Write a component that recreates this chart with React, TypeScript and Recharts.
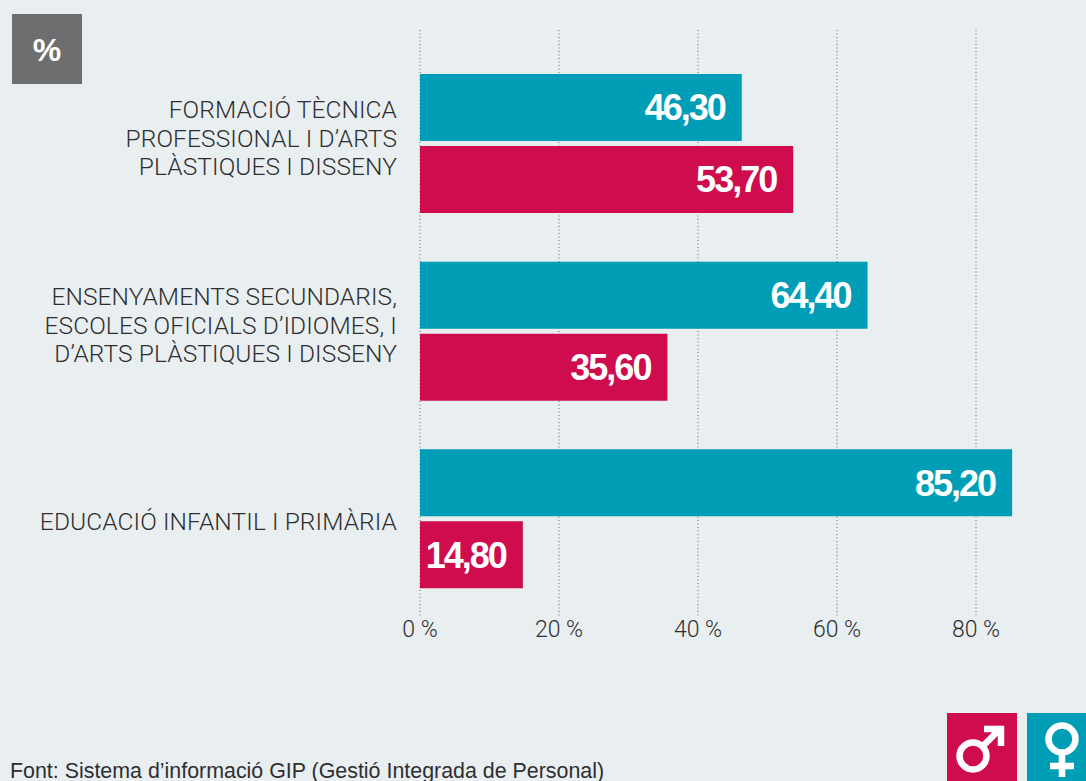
import { BarChart, Bar, XAxis, YAxis, CartesianGrid, LabelList } from "recharts";

const categories = [
  "FORMACIÓ TÈCNICA\nPROFESSIONAL I D’ARTS\nPLÀSTIQUES I DISSENY",
  "ENSENYAMENTS SECUNDARIS,\nESCOLES OFICIALS D’IDIOMES, I\nD’ARTS PLÀSTIQUES I DISSENY",
  "EDUCACIÓ INFANTIL I PRIMÀRIA",
];
const homes = [46.3, 64.4, 85.2];
const dones = [53.7, 35.6, 14.8];
const xTicks = [0, 20, 40, 60, 80];

const data = categories.map((name, i) => ({ name, homes: homes[i], dones: dones[i] }));

const TEAL = "#009eb6";
const RED = "#cf0c4e";
const BG = "#e9eef1";
const TEXT = "#2e2e30";
const FONT = "Roboto, 'Liberation Sans', sans-serif";

// the label blocks don't sit exactly on the band centre in the original
const labelShift = [-5.5, -6.5, 2.5];

function CategoryTick({ x, y, payload, index }: any) {
  const lines = String(payload.value).split("\n");
  const top = y + labelShift[index] - ((lines.length - 1) * 28.5) / 2;
  return (
    <text textAnchor="end" fontFamily={FONT} fontWeight={300} fontSize={24.5} fill={TEXT} letterSpacing={0.1}>
      {lines.map((line, i) => (
        <tspan key={i} x={x} y={top + i * 28.5 + 8.5}>
          {line}
        </tspan>
      ))}
    </text>
  );
}

function PercentTick({ x, y, payload }: any) {
  return (
    <text x={x} y={y + 13} textAnchor="middle" fontFamily={FONT} fontWeight={300} fontSize={23} fill={TEXT}>
      {payload.value} %
    </text>
  );
}

function valueText(v: any) {
  return Number(v).toFixed(2).replace(".", ",");
}

const labelStyle = {
  fontFamily: "'Liberation Sans', sans-serif",
  fontWeight: 700,
  fontSize: 36,
  letterSpacing: -2,
  fill: "#ffffff",
};

export default function App() {
  return (
    <div style={{ position: "absolute", left: 0, top: 0, width: 1086, height: 781, overflow: "hidden", background: BG }}>
      <BarChart
        width={1086}
        height={781}
        data={data}
        layout="vertical"
        barSize={67}
        barGap={5}
        margin={{ top: 30, right: 5.75, bottom: 0, left: 0 }}
      >
        <CartesianGrid
          horizontal={false}
          verticalValues={xTicks}
          stroke="#8f9599"
          strokeWidth={1.5}
          strokeDasharray="1 2.5"
        />
        <XAxis
          type="number"
          domain={[0, 95]}
          ticks={xTicks}
          height={165}
          axisLine={false}
          tickLine={false}
          interval={0}
          tick={<PercentTick />}
        />
        <YAxis
          type="category"
          dataKey="name"
          width={420}
          axisLine={false}
          tickLine={false}
          interval={0}
          padding={{ top: 20, bottom: 3 }}
          tickMargin={0}
          tick={(p: any) => <CategoryTick {...p} x={397} />}
        />
        <Bar dataKey="homes" fill={TEAL} isAnimationActive={false}>
          <LabelList dataKey="homes" position="insideRight" offset={17} formatter={valueText} style={labelStyle} />
        </Bar>
        <Bar dataKey="dones" fill={RED} isAnimationActive={false}>
          <LabelList dataKey="dones" position="insideRight" offset={17} formatter={valueText} style={labelStyle} />
        </Bar>
      </BarChart>

      <div
        style={{
          position: "absolute",
          left: 12,
          top: 14,
          width: 70,
          height: 70,
          background: "#6d6e70",
          color: "#fff",
          fontFamily: "'Liberation Sans', sans-serif",
          fontWeight: 700,
          fontSize: 32,
          lineHeight: "72px",
          textAlign: "center",
        }}
      >
        %
      </div>

      <div
        style={{
          position: "absolute",
          left: 10,
          top: 758,
          fontFamily: "'Liberation Sans', sans-serif",
          fontSize: 21.4,
          lineHeight: "26px",
          color: TEXT,
          whiteSpace: "nowrap",
        }}
      >
        Font: Sistema d’informació GIP (Gestió Integrada de Personal)
      </div>

      <svg style={{ position: "absolute", left: 0, top: 0 }} width={1086} height={781}>
        <rect x={947} y={713} width={70} height={68} fill={RED} />
        <rect x={1027} y={713} width={59} height={68} fill={TEAL} />
        <g fill="none" stroke="#fff" strokeWidth={6.5}>
          <circle cx={973} cy={756} r={13.5} />
          <path d="M983 746 L1001 728" />
          <path d="M984 729 H1001 V746" />
          <circle cx={1062} cy={739} r={13.5} />
          <path d="M1062 752 V777 M1050 766 H1074" />
        </g>
      </svg>
    </div>
  );
}
